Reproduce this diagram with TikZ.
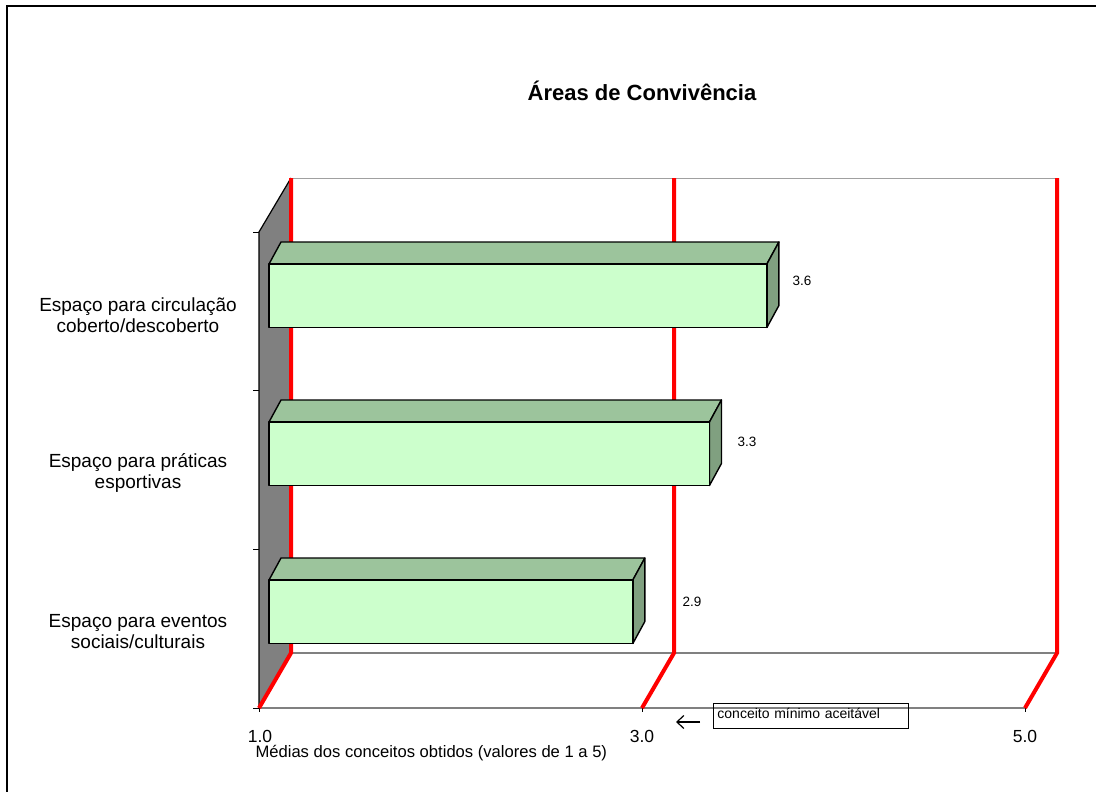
\documentclass[tikz,border=0pt]{standalone}
\usepackage{fontspec}
\setmainfont{Liberation Sans}
\usetikzlibrary{arrows.meta}

\definecolor{barFront}{RGB}{204,255,204}
\definecolor{barTop}{RGB}{156,196,156}
\definecolor{barSide}{RGB}{128,160,128}
\definecolor{wallGray}{RGB}{128,128,128}
\definecolor{lineGray}{RGB}{160,160,160}

\begin{document}
\begin{tikzpicture}[x=1pt,y=-1pt]

  \tikzstyle{frame}=[draw,line width=1.6pt]

  \tikzstyle{gridRed}=[draw,red,line width=4pt]

  \tikzstyle{floorLine}=[draw,wallGray,line width=2pt]

  \tikzstyle{barFace}=[draw=black,line width=1.4pt,line join=round]

  \tikzstyle{category}=[align=center,font=\fontsize{19}{21}\selectfont]

  \tikzstyle{value}=[anchor=west,font=\fontsize{13.5}{15}\selectfont]

  \tikzstyle{scaleLabel}=[anchor=base,font=\fontsize{17.5}{20}\selectfont]

  \tikzstyle{note}=[shape=rectangle,draw,line width=0.9pt,anchor=north west,inner xsep=4pt,inner ysep=2pt,
                    text width=187pt,align=left,text height=13pt,text depth=8pt,font=\fontsize{14}{16}\selectfont]

  \tikzstyle{pointer}=[-{Straight Barb[length=7pt,width=13pt]},line width=1.2pt]

\useasboundingbox (0,0) rectangle (1096,792);

%% frame of the chart
\draw[frame] (7,6) rectangle (1110,810);

%% left wall and back wall
\fill[wallGray] (259,232) -- (291,178) -- (291,653) -- (259,708) -- cycle;
\draw[line width=1.2pt] (259,708) -- (259,232) -- (291,178);
\draw[lineGray,line width=1pt] (291,178) -- (1057,178);

%% floor
\path[floorLine] (291,653) -- (1057,653);
\path[floorLine] (259,708) -- (1025,708);

%% ticks
\foreach \y in {232,390,549,708}
  \draw[line width=1pt] (253,\y) -- (259,\y);
\foreach \x in {259,642,1025}
  \draw[line width=1pt] (\x,708) -- (\x,712);

%% red lines at 1.0, 3.0 and 5.0
\foreach \v in {1,3,5}
  \path[gridRed] (291+\v*191.5-191.5,178) -- (291+\v*191.5-191.5,653) -- (259+\v*191.5-191.5,708);

%% bars
\foreach \val/\ytop/\lx/\ly/\n in {3.6/264/789/281/1, 3.3/422/734/442/2, 2.9/580/679/602/3} {
  \pgfmathsetmacro\xend{269+(\val-1)*191.5}
  \path[barFace,fill=barTop] (269,\ytop) -- (281,\ytop-22) -- (\xend+12,\ytop-22) -- (\xend,\ytop) -- cycle;
  \path[barFace,fill=barSide] (\xend,\ytop) -- (\xend+12,\ytop-22) -- (\xend+12,\ytop+41.5) -- (\xend,\ytop+63.5) -- cycle;
  \path[barFace,fill=barFront] (269,\ytop) rectangle (\xend,\ytop+63.5);
  \node[value] (val\n) at (\lx,\ly) {\val};
}

%% texts
\node[anchor=base,font=\fontsize{22}{26}\selectfont\bfseries] (title) at (642,101) {Áreas de Convivência};

\node[category] (cat1) at (138,315) {Espaço para circulação\\coberto/descoberto};
\node[category] (cat2) at (138,473) {Espaço para práticas\\esportivas};
\node[category] (cat3) at (138,632) {Espaço para eventos\\sociais/culturais};

\foreach \x/\t in {260/1.0,642/3.0,1025/5.0}
  \node[scaleLabel] (s\t) at (\x,742) {\t};

\node[anchor=base west,font=\fontsize{16.6}{18}\selectfont] (axis) at (252,757) {Médias dos conceitos obtidos (valores de 1 a 5)};

%% minimum concept note
\node[note] (minimum) at (713,703) {conceito mínimo aceitável};
\coordinate (tip) at (676,722);
\draw[pointer, shorten <=13pt] (tip -| minimum.west) -- (tip);

\end{tikzpicture}
\end{document}
